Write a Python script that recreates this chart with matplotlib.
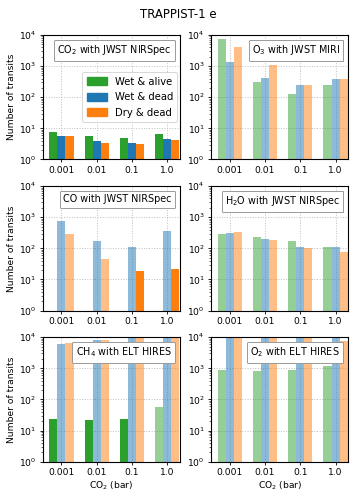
import numpy as np
import matplotlib
matplotlib.use("Agg")
import matplotlib.pyplot as plt
from matplotlib.offsetbox import AnchoredText
from matplotlib.patches import Patch

co2_levels = ["0.001", "0.01", "0.1", "1.0"]
scenarios = ["Wet & alive", "Wet & dead", "Dry & dead"]
colors = ["#2ca02c", "#1f77b4", "#ff7f0e"]

panel_titles = [
    r"CO$_2$ with JWST NIRSpec",
    r"O$_3$ with JWST MIRI",
    r"CO with JWST NIRSpec",
    r"H$_2$O with JWST NIRSpec",
    r"CH$_4$ with ELT HIRES",
    r"O$_2$ with ELT HIRES",
]

# values per panel: [wet&alive, wet&dead, dry&dead] for each CO2 level
co2_wet_alive = [7.4, 5.6, 4.9, 6.5]
co2_wet_dead = [5.6, 3.9, 3.3, 4.7]
co2_dry_dead = [5.6, 3.5, 3.2, 4.2]

o3_wet_alive = [7450, 298, 123, 251]
o3_wet_dead = [1400, 410, 251, 372]
o3_dry_dead = [4230, 1120, 251, 372]

co_wet_alive = [np.nan, np.nan, np.nan, np.nan]
co_wet_dead = [777, 178, 112, 372]
co_dry_dead = [298, 46, 18.6, 22]

h2o_wet_alive = [284, 228, 170, 114]
h2o_wet_dead = [321, 197, 109, 112]
h2o_dry_dead = [337, 187, 101, 77]

ch4_wet_alive = [24.4, 22.6, 24.4, 59]
ch4_wet_dead = [6120, 8000, 20000, 20000]
ch4_dry_dead = [6750, 8420, 20000, 20000]

o2_wet_alive = [901, 817, 858, 1210]
o2_wet_dead = [20000, 20000, 20000, 20000]
o2_dry_dead = [20000, 20000, 20000, 7820]

panels = [
    (co2_wet_alive, co2_wet_dead, co2_dry_dead),
    (o3_wet_alive, o3_wet_dead, o3_dry_dead),
    (co_wet_alive, co_wet_dead, co_dry_dead),
    (h2o_wet_alive, h2o_wet_dead, h2o_dry_dead),
    (ch4_wet_alive, ch4_wet_dead, ch4_dry_dead),
    (o2_wet_alive, o2_wet_dead, o2_dry_dead),
]

threshold = 30  # bars above this are drawn faded

plt.rcParams["font.family"] = "DejaVu Sans"
fig, axes = plt.subplots(3, 2, figsize=(3.57, 5.0), dpi=100)
fig.subplots_adjust(left=0.1196, right=0.9756, top=0.93, bottom=0.0766,
                    wspace=0.226, hspace=0.214)
fig.suptitle("TRAPPIST-1 e", fontsize=8.5, y=0.985)

x = np.arange(len(co2_levels))
w = 0.23
for idx, ax in enumerate(axes.flat):
    vals = panels[idx]
    ax.set_axisbelow(True)
    for k, series in enumerate(vals):
        series = np.array(series, dtype=float)
        for i in range(len(x)):
            v = series[i]
            if np.isnan(v):
                continue
            alpha = 1.0 if v < threshold else 0.5
            ax.bar(x[i] + (k - 1) * w, v, width=w, color=colors[k], alpha=alpha,
                   linewidth=0)
    ax.set_yscale("log")
    ax.set_ylim(1, 1e4)
    ax.set_xlim(-0.53, 3.36)
    ax.set_xticks(x)
    ax.set_xticklabels(co2_levels)
    ax.tick_params(labelsize=6.6, length=2.5, width=0.6, pad=2)
    ax.tick_params(which="minor", length=1.5, width=0.4)
    ax.grid(True, which="major", linestyle=":", color="0.75", linewidth=0.7)
    for s in ax.spines.values():
        s.set_linewidth(0.8)
    at = AnchoredText(panel_titles[idx], loc="upper right", prop=dict(size=6.9),
                      frameon=True, borderpad=0.5, pad=0.35)
    at.patch.set_boxstyle("round,pad=0,rounding_size=0.1")
    at.patch.set_edgecolor("0.6")
    at.patch.set_linewidth(0.7)
    ax.add_artist(at)
    if idx % 2 == 0:
        ax.set_ylabel("Number of transits", fontsize=6.6, labelpad=2)
    if idx >= 4:
        ax.set_xlabel(r"CO$_2$ (bar)", fontsize=6.6, labelpad=2)

handles = [Patch(color=c, label=l) for c, l in zip(colors, scenarios)]
leg = axes[0, 0].legend(handles=handles, loc="center right", fontsize=7.2,
                        handlelength=2.0, handleheight=0.8, borderaxespad=0.25,
                        labelspacing=0.55, handletextpad=0.8, borderpad=0.45)
leg.get_frame().set_linewidth(0.7)

fig.savefig("out.png", dpi=100)
